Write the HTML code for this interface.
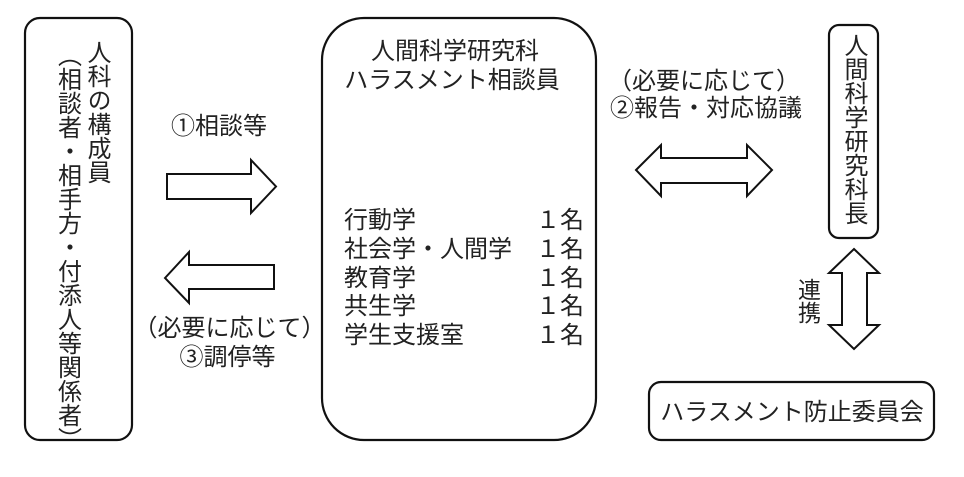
<!DOCTYPE html>
<html>
<head>
<meta charset="utf-8">
<style>
  html, body { margin:0; padding:0; background:#fff; }
  body { width:964px; height:477px; position:relative; overflow:hidden;
         font-family:"Liberation Sans","Noto Sans CJK JP",sans-serif; color:#222; }
  svg { position:absolute; left:0; top:0; }
  .t { position:absolute; font-size:24px; line-height:24px; white-space:nowrap; }
  .c { text-align:center; width:300px; }
  .v { position:absolute; writing-mode:vertical-rl; font-size:24px; line-height:24px; width:24px; white-space:nowrap; }
</style>
</head>
<body>
<svg width="964" height="477" viewBox="0 0 964 477">
  <g fill="#fff" stroke="#111" stroke-width="2.2" stroke-linejoin="miter">
    <rect x="25" y="18" width="107" height="422" rx="15" ry="15"/>
    <rect x="322" y="18" width="274" height="422" rx="42" ry="42"/>
    <rect x="829" y="25" width="49" height="213" rx="10" ry="10"/>
    <rect x="649" y="382" width="285" height="58" rx="12" ry="12"/>
  </g>
  <g fill="#fff" stroke="#111" stroke-width="2" stroke-linejoin="miter">
    <polygon points="167,174 251,174 251,160 276,186.5 251,213 251,199 167,199"/>
    <polygon points="165,278 189,252 189,265 274,265 274,289 189,289 189,303"/>
    <polygon points="636,170 661,145 661,158 747,158 747,145 772,170 747,196 747,183 661,183 661,196"/>
    <polygon points="854,249 879,273 867,273 867,325 879,325 854,349 829,325 842,325 842,273 829,273"/>
  </g>
</svg>

<!-- Left box vertical text -->
<div class="v" style="left:84px; top:40px;">人科の構成員</div>
<div class="v" style="left:54.5px; top:43px;">（相談者・相手方・付添人等関係者）</div>

<!-- Left arrow labels -->
<div class="t c" style="left:69px; top:115px;">①相談等</div>
<div class="t c" style="left:79.5px; top:317px;">（必要に応じて）</div>
<div class="t c" style="left:77.5px; top:346px;">③調停等</div>

<!-- Center box -->
<div class="t c" style="left:305px; top:40px;">人間科学研究科</div>
<div class="t c" style="left:302px; top:69px;">ハラスメント相談員</div>

<div class="t" style="left:344px; top:207px; line-height:28.75px;">行動学<br>社会学・人間学<br>教育学<br>共生学<br>学生支援室</div>
<div class="t" style="right:380px; top:207px; line-height:28.75px; text-align:right;">１名<br>１名<br>１名<br>１名<br>１名</div>

<!-- Right arrow labels -->
<div class="t c" style="left:554px; top:70px;">（必要に応じて）</div>
<div class="t c" style="left:556px; top:97px;">②報告・対応協議</div>

<!-- Right box vertical text -->
<div class="v" style="left:841px; top:33px;">人間科学研究科長</div>

<!-- 連携 -->
<div class="v" style="left:795.5px; top:278px; font-size:23px; line-height:23px; width:23px;">連携</div>

<!-- Bottom box -->
<div class="t c" style="left:642px; top:401px;">ハラスメント防止委員会</div>
</body>
</html>
